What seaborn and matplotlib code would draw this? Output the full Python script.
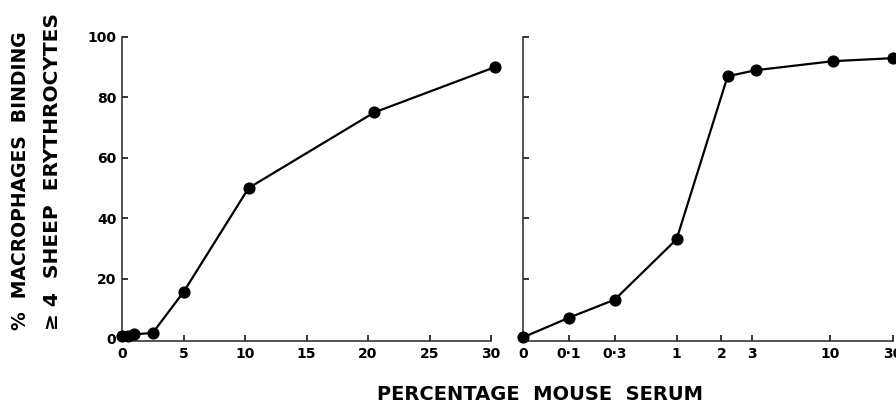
import numpy as np
import pandas as pd
import matplotlib
matplotlib.use("Agg")
import matplotlib.pyplot as plt
import seaborn as sns

# left panel: linear serum concentration
left_serum = [0, 0.5, 1.0, 2.5, 5, 10.3, 20.5, 30.3]
left_binding = [1, 1, 1.5, 2, 15.5, 50, 75, 90]

# right panel: low concentrations on a stretched axis
right_serum = [0, 0.1, 0.3, 1, 2.2, 3.3, 11, 30]
right_binding = [0.5, 7, 13, 33, 87, 89, 92, 93]

left_ticks = [0, 5, 10, 15, 20, 25, 30]
right_ticks = [0, 0.1, 0.3, 1, 2, 3, 10, 30]
right_tick_labels = ["0", "0·1", "0·3", "1", "2", "3", "10", "30"]
y_ticks = [0, 20, 40, 60, 80, 100]

# hand-drawn spacing of the right axis (relative units)
right_axis_spacing = [0, 46, 92, 154, 199, 230, 308, 371]


def fwd(x):
    return np.interp(x, right_ticks, right_axis_spacing)


def inv(p):
    return np.interp(p, right_axis_spacing, right_ticks)


sns.set_style("ticks")
plt.rcParams.update({
    "xtick.direction": "in",
    "ytick.direction": "in",
    "xtick.major.size": 4,
    "ytick.major.size": 4,
    "xtick.major.width": 1.1,
    "ytick.major.width": 1.1,
    "axes.linewidth": 1.1,
    "font.size": 10,
    "text.color": "black",
})
plt.rcParams["font.family"] = ["DejaVu Sans"]

W, H = 896, 405
fig = plt.figure(figsize=(W / 100, H / 100), dpi=100)

ax1 = fig.add_axes([122 / W, 1 - 341 / H, 369 / W, 304 / H])
ax2 = fig.add_axes([523 / W, 1 - 341 / H, 370 / W, 304 / H])

left_df = pd.DataFrame({"serum": left_serum, "binding": left_binding})
right_df = pd.DataFrame({"serum": right_serum, "binding": right_binding})

ax2.set_xscale("function", functions=(fwd, inv))

for ax, df in [(ax1, left_df), (ax2, right_df)]:
    sns.lineplot(data=df, x="serum", y="binding", ax=ax, color="black",
                 linewidth=1.6, marker="o", markersize=8,
                 markeredgecolor="black", markerfacecolor="black",
                 clip_on=False, zorder=3)
    ax.set_ylim(-0.7, 100)
    ax.set_yticks(y_ticks)
    ax.set_xlabel("")
    ax.set_ylabel("")
    sns.despine(ax=ax)
    ax.tick_params(axis="both", labelsize=10, pad=4, colors="black")

ax1.set_xlim(0, 30)
ax1.set_xticks(left_ticks)
ax1.set_yticklabels([str(v) for v in y_ticks])

ax2.set_xlim(0, 30)
ax2.set_xticks(right_ticks)
ax2.set_xticklabels(right_tick_labels)
ax2.set_yticklabels([])

for lab in ax1.get_xticklabels() + ax1.get_yticklabels() + ax2.get_xticklabels():
    lab.set_fontweight("bold")

fig.text(540 / W, 1 - 395 / H, "PERCENTAGE  MOUSE  SERUM",
         ha="center", va="center", fontsize=14, fontweight="bold", color="black")
fig.text(21 / W, 1 - 330 / H, "%  MACROPHAGES  BINDING",
         rotation=90, ha="center", va="bottom", fontsize=13.5, fontweight="bold",
         color="black")
fig.text(53 / W, 1 - 330 / H, "≥ 4  SHEEP  ERYTHROCYTES",
         rotation=90, ha="center", va="bottom", fontsize=14.5, fontweight="bold",
         color="black")

fig.savefig("out.png", dpi=100)
